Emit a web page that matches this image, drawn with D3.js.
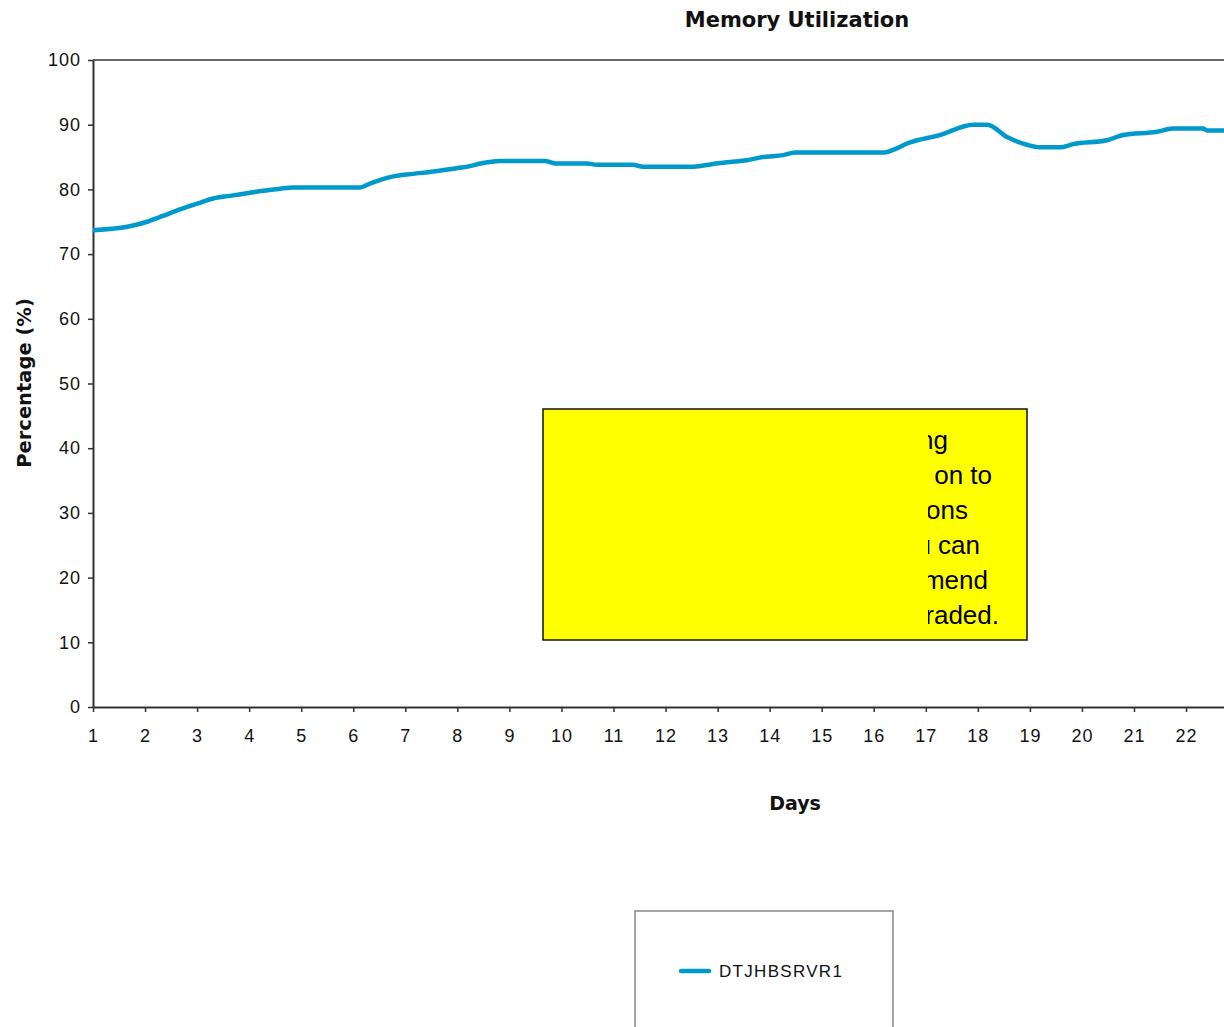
<!DOCTYPE html>
<html>
<head>
<meta charset="utf-8">
<script src="https://cdn.jsdelivr.net/npm/d3@7"></script>
<style>
  body { margin: 0; background: #fff; }
  svg { display: block; }
</style>
</head>
<body>
<div id="chart"></div>
<script>
// data
const days = [1.00, 1.71, 2.04, 2.34, 2.67, 3.00, 3.31, 3.63, 3.96, 4.27, 4.59, 4.84, 6.13, 6.32, 6.71, 7.15, 7.47, 7.92, 8.24, 8.44, 8.82, 9.68, 9.88, 10.49, 10.68, 11.37, 11.57, 12.47, 12.89, 13.18, 13.56, 13.87, 14.26, 14.49, 16.18, 16.40, 16.64, 17.27, 17.91, 18.18, 18.56, 18.94, 19.19, 19.58, 19.83, 20.48, 20.79, 21.44, 21.75, 22.33, 22.40, 22.73, 23.20];
const memory = [73.7, 74.3, 75.0, 75.9, 76.9, 77.8, 78.6, 79.0, 79.4, 79.8, 80.1, 80.3, 80.3, 80.9, 81.9, 82.4, 82.7, 83.2, 83.6, 84.0, 84.4, 84.4, 84.0, 84.0, 83.8, 83.8, 83.5, 83.5, 83.9, 84.2, 84.5, 85.0, 85.3, 85.7, 85.7, 86.2, 87.1, 88.4, 90.0, 90.0, 88.1, 86.9, 86.5, 86.5, 87.0, 87.6, 88.4, 88.9, 89.4, 89.4, 89.1, 89.1, 89.0];
const dayTicks = d3.range(1, 23);
const pctTicks = d3.range(0, 101, 10);
const seriesName = "DTJHBSRVR1";
const noteLines = ["using", "on to", "ctions", "you can", "recommend", "upgraded."];

const width = 1224, height = 1027;
const blue = "#0099cc";

const svg = d3.select("#chart").append("svg")
    .attr("width", width)
    .attr("height", height);

const x = d3.scaleLinear().domain([1, 24]).range([93, 93 + 23 * 52.05]);
const y = d3.scaleLinear().domain([0, 100]).range([707, 60]);

// plot border (top)
svg.append("line")
    .attr("x1", 93).attr("x2", width + 10)
    .attr("y1", y(100)).attr("y2", y(100))
    .attr("stroke", "#333").attr("stroke-width", 1.5);

const xAxis = svg.append("g")
    .attr("transform", `translate(0,${y(0)})`)
    .call(d3.axisBottom(x).tickValues(dayTicks).tickSize(5).tickSizeOuter(0).tickPadding(17));
const yAxis = svg.append("g")
    .attr("transform", `translate(${x(1)},0)`)
    .call(d3.axisLeft(y).tickValues(pctTicks).tickSize(5).tickSizeOuter(0).tickPadding(7));

[xAxis, yAxis].forEach(g => {
    g.select(".domain").attr("stroke", "#333").attr("stroke-width", 2);
    g.selectAll(".tick line").attr("stroke", "#333").attr("stroke-width", 1.5);
    g.selectAll(".tick text")
        .attr("fill", "#111")
        .style("font-family", "'Liberation Sans', Arial, sans-serif")
        .style("font-size", "18px")
        .style("letter-spacing", "1px");
});

// series line
const line = d3.line()
    .x((d, i) => x(days[i]))
    .y(d => y(d))
    .curve(d3.curveMonotoneX);

svg.append("path")
    .datum(memory)
    .attr("fill", "none")
    .attr("stroke", blue)
    .attr("stroke-width", 4.5)
    .attr("d", line);

// titles
const bold = "'DejaVu Sans', Verdana, sans-serif";
svg.append("text")
    .attr("x", 797).attr("y", 27)
    .attr("text-anchor", "middle")
    .style("font-family", bold).style("font-weight", "bold").style("font-size", "21px")
    .attr("fill", "#111")
    .text("Memory Utilization");

svg.append("text")
    .attr("x", 795).attr("y", 810)
    .attr("text-anchor", "middle")
    .style("font-family", bold).style("font-weight", "bold").style("font-size", "19px")
    .attr("fill", "#111")
    .text("Days");

svg.append("text")
    .attr("transform", "translate(31,383) rotate(-90)")
    .attr("text-anchor", "middle")
    .style("font-family", bold).style("font-weight", "bold").style("font-size", "19.5px")
    .attr("fill", "#111")
    .text("Percentage (%)");

// yellow note box
svg.append("rect")
    .attr("x", 543).attr("y", 409)
    .attr("width", 484).attr("height", 231)
    .attr("fill", "#ffff00")
    .attr("stroke", "#111").attr("stroke-width", 1.5);

svg.append("clipPath").attr("id", "noteClip")
    .append("rect")
    .attr("x", 928).attr("y", 410).attr("width", 98).attr("height", 229);

const noteRight = [948, 992, 968, 980, 988, 999];
svg.append("g")
    .attr("clip-path", "url(#noteClip)")
    .selectAll("text")
    .data(noteLines)
    .join("text")
    .attr("x", (d, i) => noteRight[i])
    .attr("y", (d, i) => 449 + i * 35)
    .attr("text-anchor", "end")
    .style("font-family", "'Liberation Sans', Arial, sans-serif")
    .style("font-size", "26px")
    .attr("fill", "#000")
    .text(d => d);

// legend
svg.append("rect")
    .attr("x", 635).attr("y", 911)
    .attr("width", 258).attr("height", 140)
    .attr("fill", "#fff")
    .attr("stroke", "#888").attr("stroke-width", 1.5);

svg.append("line")
    .attr("x1", 681).attr("x2", 709)
    .attr("y1", 971).attr("y2", 971)
    .attr("stroke", blue).attr("stroke-width", 4.5)
    .attr("stroke-linecap", "round");

svg.append("text")
    .attr("x", 719).attr("y", 977)
    .style("font-family", "'Liberation Sans', Arial, sans-serif")
    .style("font-size", "17px")
    .style("letter-spacing", "1.3px")
    .attr("fill", "#111")
    .text(seriesName);
</script>
</body>
</html>
